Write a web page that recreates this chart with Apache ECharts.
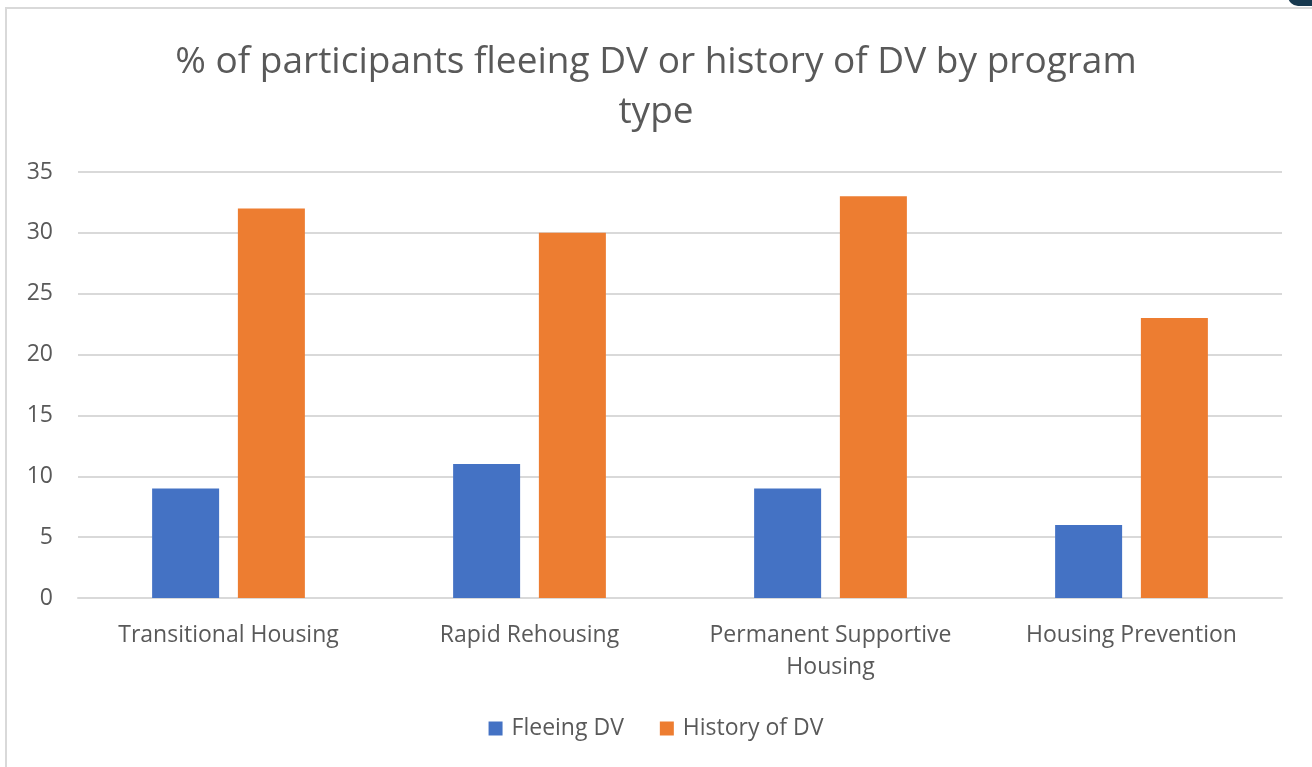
<!DOCTYPE html>
<html lang="en">
<head>
    <meta charset="UTF-8">
    <title>DV by program type</title>
    <style>
        *{
            padding:0;
            margin:0;
        }
        body{
            background:#fff;
            width:1312px;
            height:767px;
            overflow:hidden;
            position:relative;
        }
        #frame{
            position:absolute;
            left:5px;
            top:7px;
            width:1320px;
            height:780px;
            border:2px solid #d9d9d9;
        }
        #corner{
            position:absolute;
            left:1288px;
            top:-14px;
            width:40px;
            height:20px;
            background:#17394f;
            border-radius:10px;
        }
    </style>
</head>
<script src="https://cdn.jsdelivr.net/npm/echarts@6/dist/echarts.min.js"></script>
<body>
    <div id="frame"></div>
    <div id="corner"></div>
    <div id="main" style="position:absolute;left:0;top:0;width:1312px;height:767px;"></div>
    <script>
        var categories = ['Transitional Housing', 'Rapid Rehousing', 'Permanent Supportive\nHousing', 'Housing Prevention'];
        var fleeingDV = [9, 11, 9, 6];
        var historyDV = [32, 30, 33, 23];
        var yTicks = [0, 5, 10, 15, 20, 25, 30, 35];

        var font = '"Open Sans", Lato, sans-serif';
        var myChart = echarts.init(document.getElementById('main'));
        var option = {
            animation: false,
            title: {
                text: '% of participants fleeing DV or history of DV by program\ntype',
                left: 'center',
                top: 32,
                textStyle: {
                    color: '#595959',
                    fontFamily: font,
                    fontWeight: 'normal',
                    fontSize: 37,
                    lineHeight: 50
                }
            },
            legend: {
                bottom: 22,
                left: 'center',
                itemWidth: 14,
                itemHeight: 14,
                itemGap: 36,
                icon: 'rect',
                textStyle: {
                    color: '#595959',
                    fontFamily: font,
                    fontSize: 23,
                    padding: [0, 0, 0, 4]
                },
                data: ['Fleeing DV', 'History of DV']
            },
            grid: {
                left: 78,
                right: 30,
                top: 172,
                bottom: 169,
                containLabel: false
            },
            xAxis: {
                type: 'category',
                data: categories,
                axisTick: { show: false },
                axisLine: { lineStyle: { color: '#d9d9d9', width: 2 } },
                axisLabel: {
                    color: '#595959',
                    fontFamily: font,
                    fontSize: 23,
                    margin: 21,
                    lineHeight: 32,
                    interval: 0
                }
            },
            yAxis: {
                type: 'value',
                min: yTicks[0],
                max: yTicks[yTicks.length - 1],
                interval: 5,
                axisLine: { show: false },
                axisTick: { show: false },
                splitLine: { lineStyle: { color: '#d9d9d9', width: 2 } },
                axisLabel: {
                    color: '#595959',
                    fontFamily: font,
                    fontSize: 23,
                    margin: 25
                }
            },
            series: [
                {
                    name: 'Fleeing DV',
                    type: 'bar',
                    data: fleeingDV,
                    barWidth: 67,
                    barGap: '28%',
                    itemStyle: { color: '#4472c4' }
                },
                {
                    name: 'History of DV',
                    type: 'bar',
                    data: historyDV,
                    barWidth: 67,
                    itemStyle: { color: '#ed7d31' }
                }
            ]
        };
        myChart.setOption(option);
    </script>
</body>
</html>
